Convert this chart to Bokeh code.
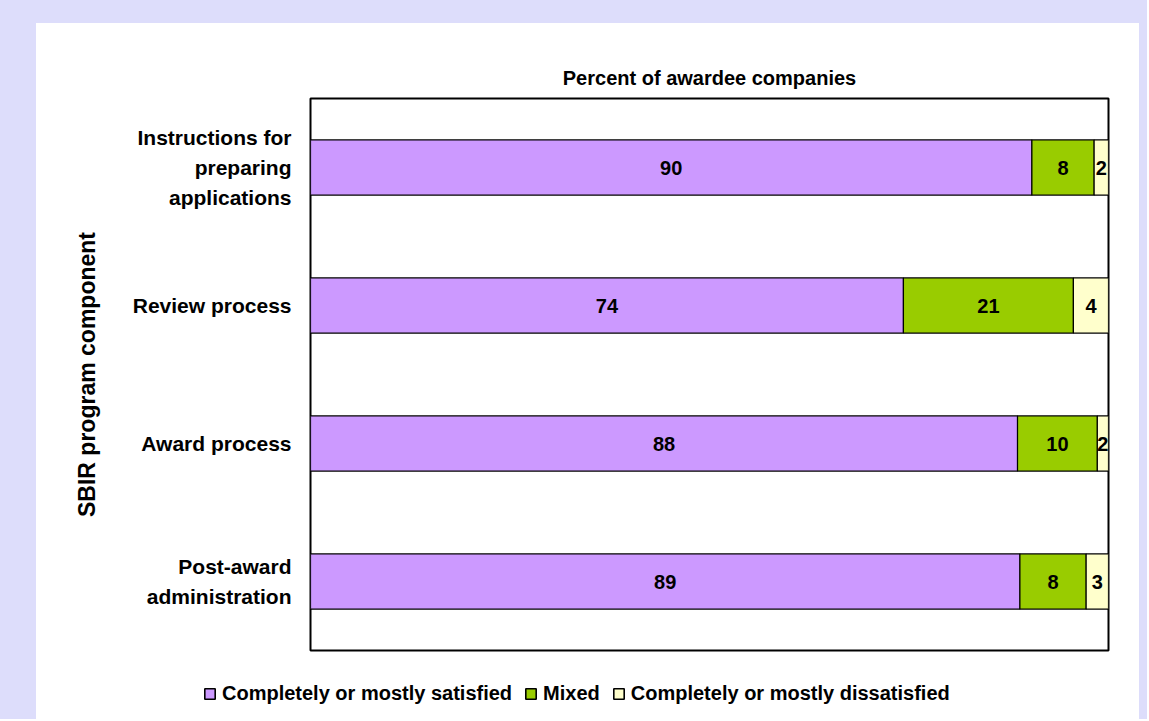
from bokeh.plotting import figure
from bokeh.models import (ColumnDataSource, LabelSet, Range1d, FactorRange,
                          Legend, LegendItem)
from bokeh.core.properties import value
from bokeh.layouts import column
from bokeh.embed import file_html
from bokeh.resources import INLINE

# ---- data ----
categories = ["Instructions for\npreparing\napplications", "Review process",
              "Award process", "Post-award\nadministration"]
satisfied = [90.4, 74.3, 88.6, 88.9]
mixed = [7.8, 21.3, 10.0, 8.3]
dissatisfied = [1.8, 4.4, 1.4, 2.8]
satisfied_labels = ["90", "74", "88", "89"]
mixed_labels = ["8", "21", "10", "8"]
dissatisfied_labels = ["2", "4", "2", "3"]
series_names = ["Completely or mostly satisfied", "Mixed",
                "Completely or mostly dissatisfied"]
colors = ["#CC99FF", "#99CC00", "#FFFFCC"]
title_text = "Percent of awardee companies"
y_title = "SBIR program component"

FONT = "Liberation Sans"
LAV = "#DDDDFB"

sat_mid = [s / 2 for s in satisfied]
mix_mid = [s + m / 2 for s, m in zip(satisfied, mixed)]
dis_mid = [s + m + d / 2 for s, m, d in zip(satisfied, mixed, dissatisfied)]

source = ColumnDataSource(dict(
    cat=categories, sat=satisfied, mix=mixed, dis=dissatisfied,
    sat_mid=sat_mid, mix_mid=mix_mid, dis_mid=dis_mid,
    sat_lbl=satisfied_labels, mix_lbl=mixed_labels, dis_lbl=dissatisfied_labels,
))

# ---------------- main chart ----------------
p = figure(width=1103, height=629, output_backend="svg", toolbar_location=None,
           x_range=Range1d(0, 100),
           y_range=FactorRange(factors=list(reversed(categories))),
           min_border_left=274, min_border_right=31,
           min_border_top=75, min_border_bottom=2)

p.background_fill_color = "white"
p.border_fill_color = "white"
p.outline_line_color = "black"
p.outline_line_width = 2

renderers = p.hbar_stack(["sat", "mix", "dis"], y="cat", height=0.4,
                         color=colors, line_color="black", line_width=1.2,
                         source=source)

for xcol, tcol in [("sat_mid", "sat_lbl"), ("mix_mid", "mix_lbl"), ("dis_mid", "dis_lbl")]:
    p.add_layout(LabelSet(x=xcol, y="cat", text=tcol, source=source,
                          text_align="center", text_baseline="middle",
                          text_font=value(FONT), text_font_style="bold",
                          text_font_size="20px", text_color="black"))

p.title.text = title_text
p.title.align = "center"
p.title.text_font = FONT
p.title.text_font_size = "20px"
p.title.text_font_style = "bold"
p.title.text_color = "black"
p.title.standoff = 19

p.xaxis.visible = False
p.xgrid.visible = False
p.ygrid.visible = False

ya = p.yaxis[0]
ya.axis_line_color = None
ya.major_tick_line_color = None
ya.minor_tick_line_color = None
ya.major_tick_out = 0
ya.major_tick_in = 0
ya.major_label_standoff = 19
ya.major_label_text_font = FONT
ya.major_label_text_font_style = "bold"
ya.major_label_text_font_size = "21px"
ya.major_label_text_color = "black"
ya.major_label_text_line_height = 1.3
ya.axis_label = y_title
ya.axis_label_text_font = FONT
ya.axis_label_text_font_style = "bold"
ya.axis_label_text_font_size = "23px"
ya.axis_label_text_color = "black"
ya.axis_label_standoff = 30

# ---------------- legend strip below the chart ----------------
lg = figure(width=1103, height=67, output_backend="svg", toolbar_location=None,
            title=None, x_range=Range1d(0, 100),
            y_range=FactorRange(factors=list(reversed(categories))),
            x_axis_type=None, y_axis_type=None,
            min_border_left=0, min_border_right=0,
            min_border_top=0, min_border_bottom=0)
lg.frame_align = False
lg.outline_line_color = None
lg.background_fill_color = "white"
lg.border_fill_color = "white"
lg.xgrid.visible = False
lg.ygrid.visible = False
lg_renderers = lg.hbar_stack(["sat", "mix", "dis"], y="cat", height=0.4,
                             color=colors, line_color="black", line_width=1.6,
                             source=source)
for r in lg_renderers:
    r.visible = False

legend = Legend(items=[LegendItem(label=n, renderers=[r]) for n, r in zip(series_names, lg_renderers)],
                orientation="horizontal", location=(167, 14),
                label_text_font=FONT, label_text_font_style="bold",
                label_text_font_size="20px", label_text_color="black",
                glyph_width=13, glyph_height=13, label_standoff=6, spacing=12,
                padding=0, margin=0, border_line_color=None,
                background_fill_alpha=0, inactive_fill_alpha=0)
lg.add_layout(legend)

inner = column(p, lg, spacing=0, styles={"background-color": "white"})
layout = column(inner, styles={"background-color": LAV,
                               "padding": "23px 8px 0px 36px"})

open("out.html", "w").write(file_html(layout, INLINE))
